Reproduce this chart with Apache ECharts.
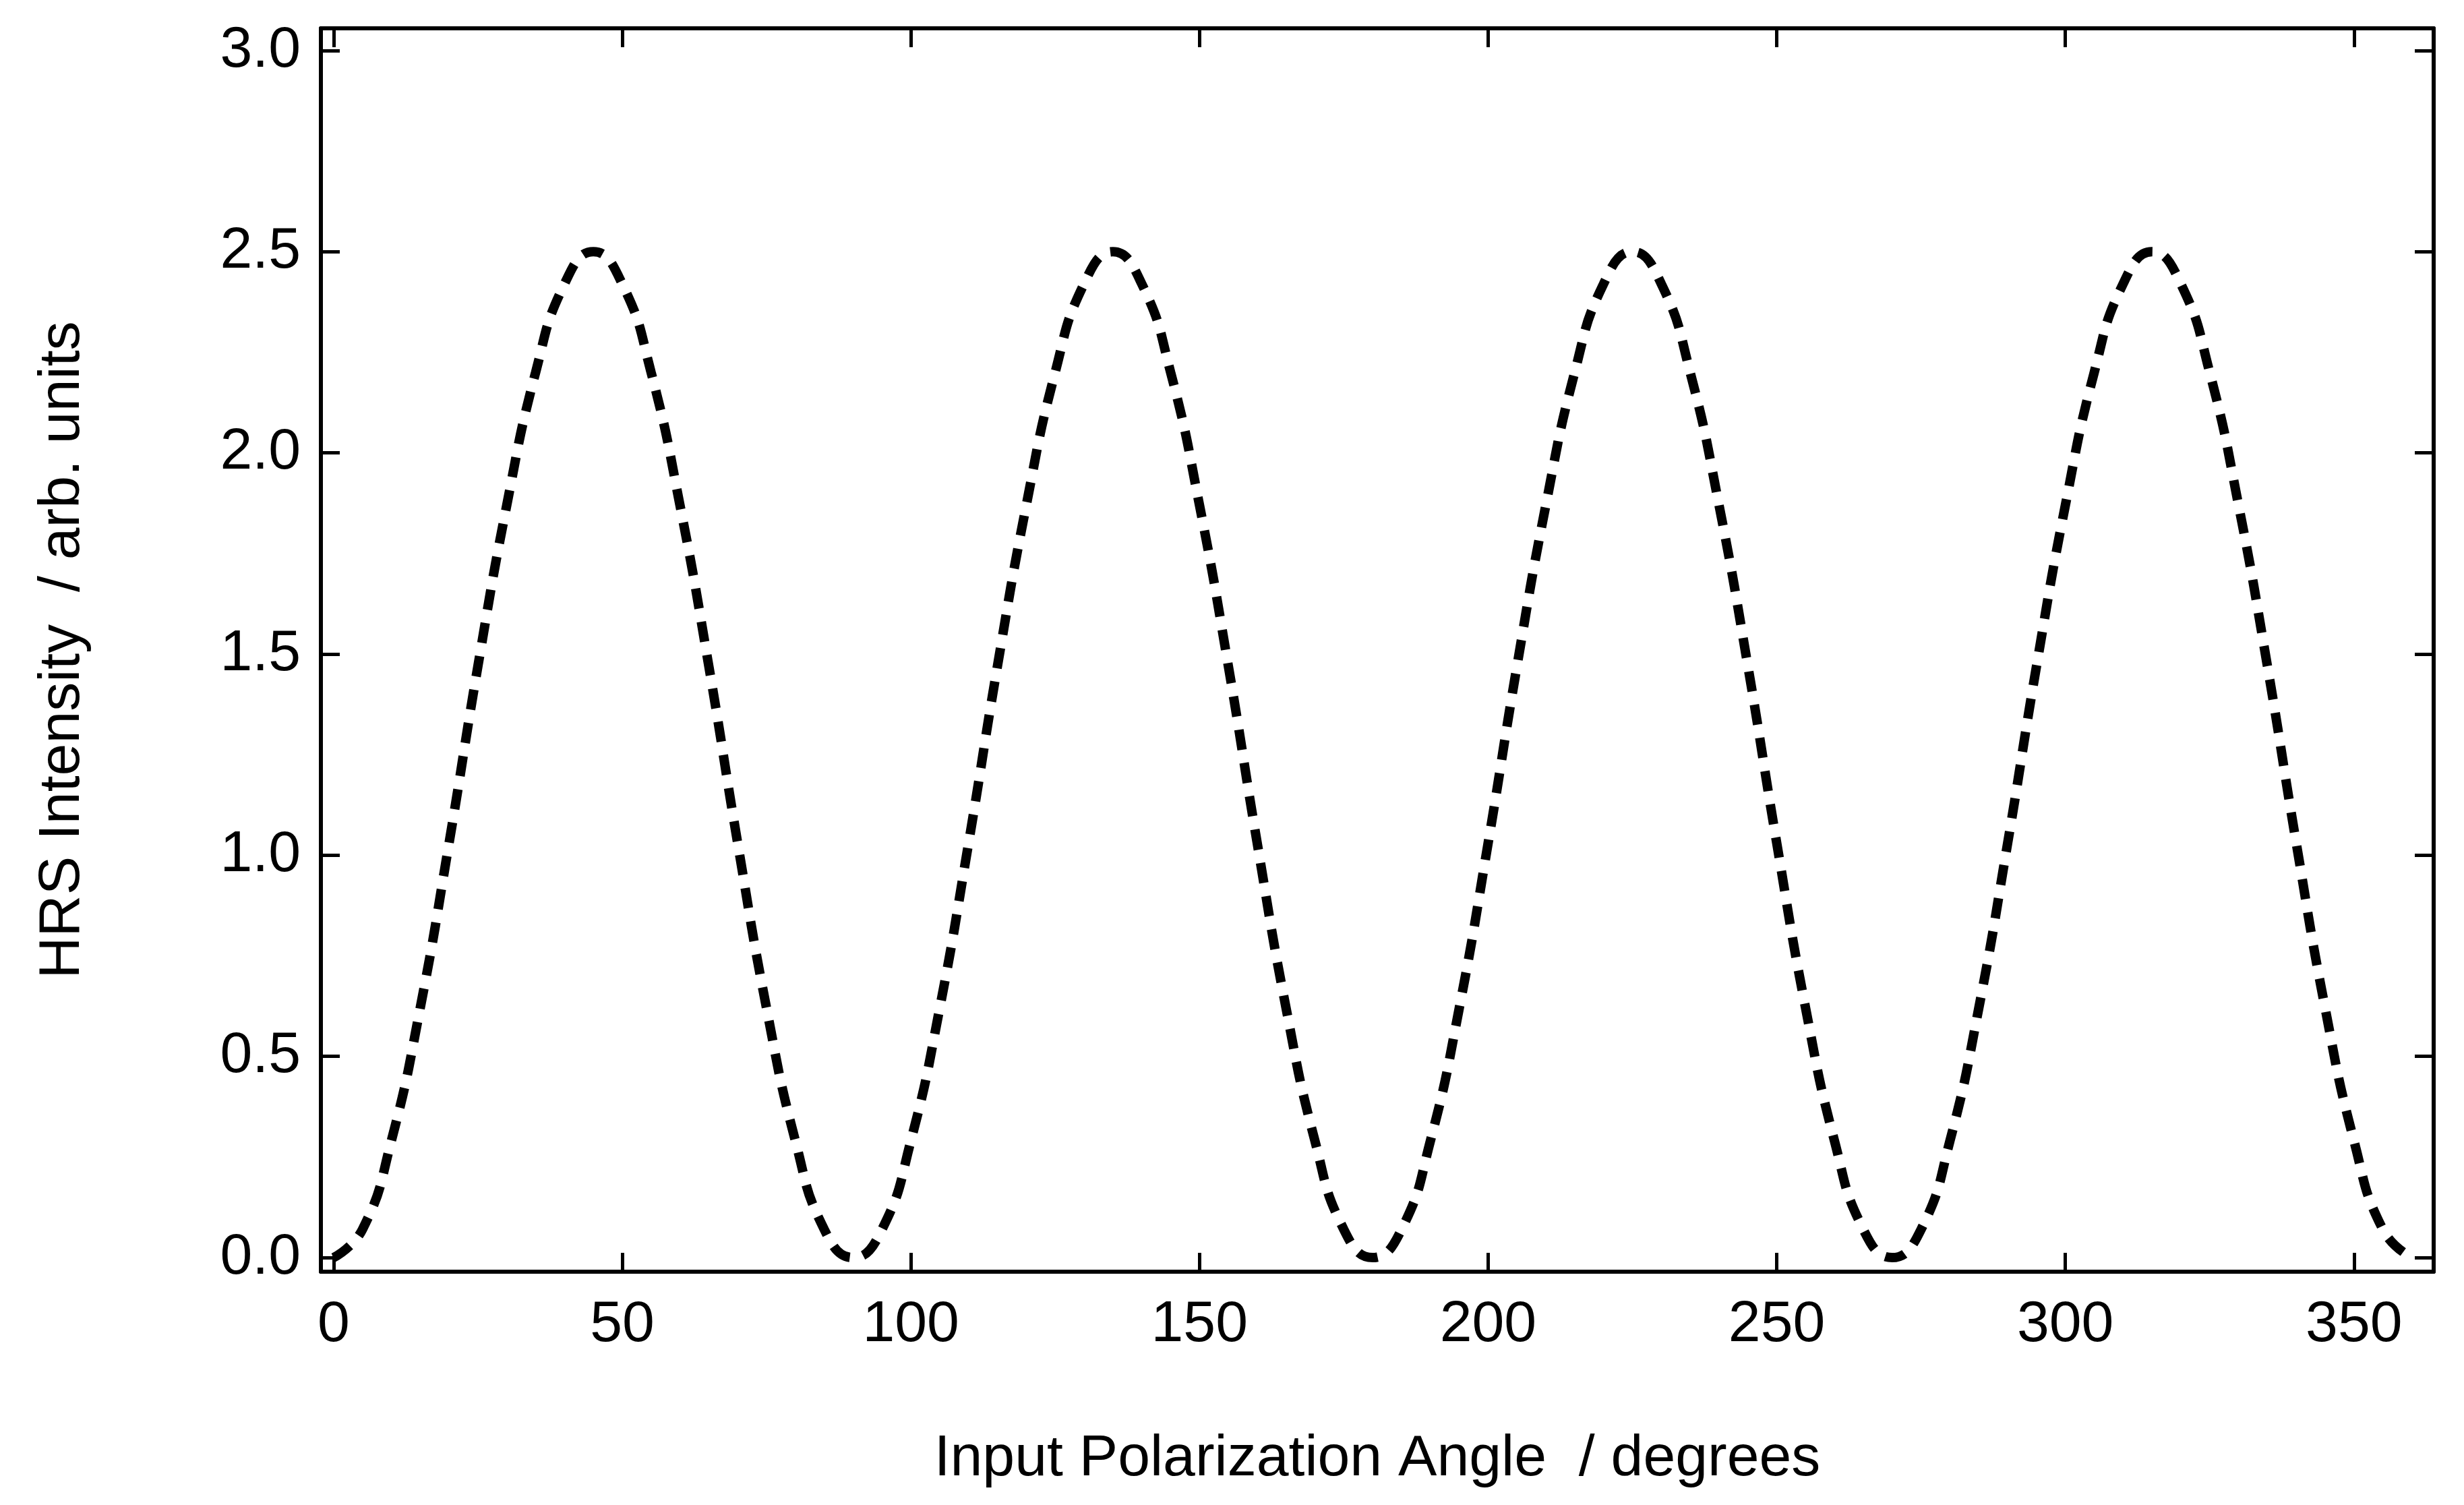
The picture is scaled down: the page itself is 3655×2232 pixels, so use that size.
<!DOCTYPE html>
<html><head><meta charset="utf-8">
<script src="https://cdn.jsdelivr.net/npm/echarts@6/dist/echarts.min.js"></script>
<style>html,body{margin:0;padding:0;background:#fff}#c{width:3655px;height:2232px}</style>
</head><body><div id="c"></div>
<script>
const angles = [0,5,10,15,20,25,30,35,40,45,50,55,60,65,70,75,80,85,90,95,100,105,110,115,120,125,130,135,140,145,150,155,160,165,170,175,180,185,190,195,200,205,210,215,220,225,230,235,240,245,250,255,260,265,270,275,280,285,290,295,300,305,310,315,320,325,330,335,340,345,350,355,360];
const intensity = [0,0.07,0.29,0.62,1.03,1.47,1.87,2.2,2.42,2.5,2.42,2.2,1.87,1.47,1.03,0.62,0.29,0.07,0,0.07,0.29,0.62,1.03,1.47,1.87,2.2,2.42,2.5,2.42,2.2,1.87,1.47,1.03,0.62,0.29,0.07,0,0.07,0.29,0.62,1.03,1.47,1.87,2.2,2.42,2.5,2.42,2.2,1.87,1.47,1.03,0.62,0.29,0.07,0,0.07,0.29,0.62,1.03,1.47,1.87,2.2,2.42,2.5,2.42,2.2,1.87,1.47,1.03,0.62,0.29,0.07,0];
const xTicks = [0,50,100,150,200,250,300,350];
const yTicks = [0,0.5,1,1.5,2,2.5,3];
const F = 'Liberation Sans, Arial, sans-serif';
function xa(show, pos){return {type:'value',position:pos,min:-2.2,max:363.8,
  axisLine:{show:true,onZero:false,lineStyle:{color:'#000',width:6}},
  axisTick:{show:true,inside:true,length:28,customValues:xTicks,lineStyle:{color:'#000',width:5}},
  axisLabel:{show:show,customValues:xTicks,fontSize:86,color:'#000',fontFamily:F,margin:36},
  splitLine:{show:false},
  name:show?'Input Polarization Angle  / degrees':'',nameLocation:'middle',nameGap:235,
  nameTextStyle:{fontSize:86,color:'#000',fontFamily:F}};}
function ya(show,pos){return {type:'value',position:pos,min:-0.035,max:3.055,
  axisLine:{show:true,onZero:false,lineStyle:{color:'#000',width:6}},
  axisTick:{show:true,inside:true,length:28,customValues:yTicks,lineStyle:{color:'#000',width:5}},
  axisLabel:{show:show,customValues:yTicks,fontSize:86,color:'#000',fontFamily:F,margin:30,
    formatter:v=>v.toFixed(1)},
  splitLine:{show:false},
  name:show?'HRS Intensity  / arb. units':'',nameLocation:'middle',nameGap:340,nameRotate:90,
  nameTextStyle:{fontSize:86,color:'#000',fontFamily:F}};}
const chart = echarts.init(document.getElementById('c'),null,{renderer:'canvas'});
chart.setOption({
  backgroundColor:'#fff',animation:false,
  grid:{left:476,right:45,top:42,bottom:346,containLabel:false},
  xAxis:[xa(true,'bottom'),xa(false,'top')],
  yAxis:[ya(true,'left'),ya(false,'right')],
  series:[{type:'line',smooth:true,showSymbol:false,
    data:angles.map((a,i)=>[a,intensity[i]]),
    lineStyle:{color:'#000',width:14,type:[30,20]}}]
});
</script></body></html>
